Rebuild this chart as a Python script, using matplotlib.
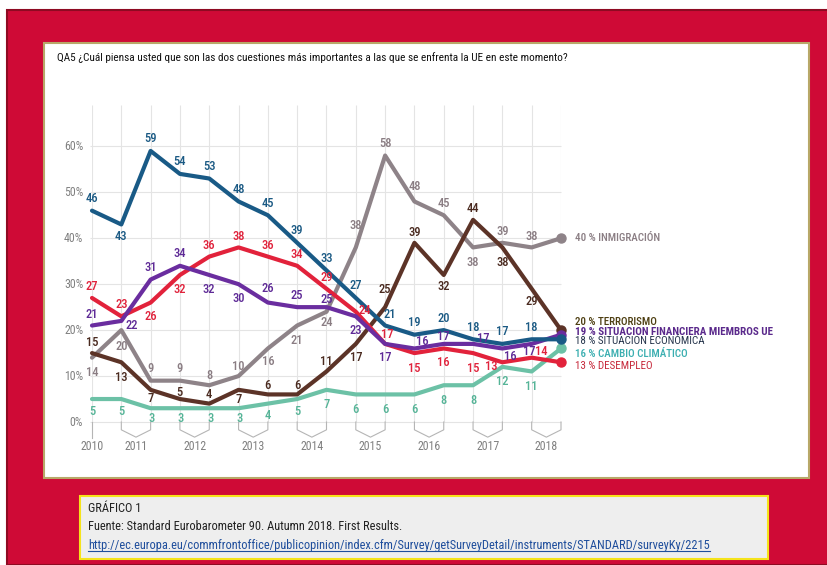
import matplotlib
matplotlib.use("Agg")
import matplotlib.pyplot as plt
from matplotlib.patches import Rectangle

plt.rcParams['font.family'] = ['Roboto Condensed', 'DejaVu Sans']

W, H = 828, 565

# ---- data (Eurobarometer QA5, % mentions) ----
years = ['2010', '2011', '2012', '2013', '2014', '2015', '2016', '2017', '2018']
economia = [46, 43, 59, 54, 53, 48, 45, 39, 33, 27, 21, 19, 20, 18, 17, 18, 18]
desempleo = [27, 23, 26, 32, 36, 38, 36, 34, 29, 24, 17, 15, 16, 15, 13, 14, 13]
finanzas = [21, 22, 31, 34, 32, 30, 26, 25, 25, 23, 17, 16, 17, 17, 16, 17, 19]
inmigracion = [14, 20, 9, 9, 8, 10, 16, 21, 24, 38, 58, 48, 45, 38, 39, 38, 40]
terrorismo = [15, 13, 7, 5, 4, 7, 6, 6, 11, 17, 25, 39, 32, 44, 38, 29, 20]
clima = [5, 5, 3, 3, 3, 3, 4, 5, 7, 6, 6, 6, 8, 8, 12, 11, 16]
yticks = [0, 10, 20, 30, 40, 50, 60]

# label offsets (pixels, dy positive = down in the picture)
off_eco = [(0, -12), (0, 12)] + [(0, -12)] * 8 + [(5, -11)] + [(0, -12)] * 5
off_des = [(0, -11), (0, -12), (0, 14), (0, 15)] + [(0, -11)] * 5 + \
          [(9, -1), (2, -9), (0, 15), (0, 14), (0, 15), (-11, 4), (10, -6)]
off_fin = [(0, -11), (10, 5), (0, -12), (0, -12), (0, 15), (0, 14), (0, -14),
           (0, -12), (0, -8), (0, 14), (0, 14), (8, -7), (0, -7), (10, -5),
           (8, 8), (-2, 8)]
off_inm = [(0, 15), (0, 16), (0, -12), (0, -12), (0, -10), (0, -10), (0, 13),
           (0, 15), (0, 11), (0, -22), (0, -12), (0, -15), (0, -12), (0, 15),
           (0, -11), (0, -11)]
off_ter = [(0, -11), (0, 15), (0, 9), (0, -7), (0, -9), (0, 10), (0, -9),
           (0, -9), (0, -10), (0, 14), (0, -18), (0, -10), (0, 12), (0, -11),
           (0, 15), (0, 13)]
off_cli = [(0, 12), (0, 12)] + [(1, 10)] * 4 + [(0, 12), (0, 12)] + [(0, 15)] * 8


def fx(x):
    return x / W


def fy(y):
    return 1 - y / H


fig = plt.figure(figsize=(W / 100, H / 100), dpi=100)
fig.patch.set_facecolor('white')

# red frame, white panel, footnote box
fig.add_artist(Rectangle((fx(7), fy(565)), fx(821), 555 / H, transform=fig.transFigure,
                         facecolor='#cf0a36', edgecolor='#8e0a22', lw=1.5, zorder=-3))
fig.add_artist(Rectangle((fx(44), fy(478)), fx(765), 435 / H, transform=fig.transFigure,
                         facecolor='white', edgecolor='#b8a868', lw=1.5, zorder=-2))
fig.add_artist(Rectangle((fx(80), fy(559)), fx(688), 63 / H, transform=fig.transFigure,
                         facecolor='#eeeeee', edgecolor='#f5e31a', lw=1.5, zorder=-2))

fig.text(fx(57), fy(58), 'QA5 ¿Cuál piensa usted que son las dos cuestiones más importantes '
         'a las que se enfrenta la UE en este momento?', fontsize=8.1, va='center', color='#111111')

fig.text(fx(88), fy(509), 'GRÁFICO 1', fontsize=8.9, va='center', color='#222222')
fig.text(fx(88), fy(527), 'Fuente: Standard Eurobarometer 90. Autumn 2018. First Results.',
         fontsize=8.9, va='center', color='#222222')
url = fig.text(fx(88), fy(545), 'http://ec.europa.eu/commfrontoffice/publicopinion/index.cfm/Survey/'
               'getSurveyDetail/instruments/STANDARD/surveyKy/2215',
               fontsize=8.9, va='center', color='#1f4e9c')
fig.canvas.draw()
bb = url.get_window_extent()
fig.add_artist(plt.Line2D([bb.x0 / W, bb.x1 / W], [fy(551), fy(551)], transform=fig.transFigure,
                          color='#1f4e9c', lw=0.8))

# axes: x index 0..16 -> px 92..561, y 0..69 -> px 422..105
ax = fig.add_axes([fx(92), fy(422), (561 - 92) / W, (422 - 105) / H])
ax.set_xlim(0, 16)
ax.set_ylim(0, 69)
ax.axis('off')

n = len(economia)
xs = list(range(n))
grid_c = '#e4e4e4'
ax.vlines(xs, 0, 69, color=grid_c, lw=0.8, zorder=0)
ax.hlines(yticks, -0.07, 16, color=grid_c, lw=0.8, zorder=0, clip_on=False)
for v in yticks:
    ax.text(-0.3, v, f'{v}%', ha='right', va='center', fontsize=8.6, color='#808080')

# year brackets below the axis
br_c = '#b5b5b5'
ax.plot([0, 0], [0, -3.4], color=br_c, lw=0.8, clip_on=False)
ax.text(0, -5.4, years[0], ha='center', va='center', fontsize=8.6, color='#808080')
for k, yr in enumerate(years[1:]):
    a = 1 + 2 * k
    ax.plot([a, a, a + 0.5, a + 1, a + 1], [0, -1.7, -3.3, -1.7, 0],
            color=br_c, lw=0.8, clip_on=False)
    ax.text(a + 0.5, -5.4, yr, ha='center', va='center', fontsize=8.6, color='#808080')

series = [
    (inmigracion, '#8e8388', '#8a7d83', off_inm),
    (clima, '#6cc1a6', '#55b497', off_cli),
    (terrorismo, '#5c3327', '#4a2a1f', off_ter),
    (desempleo, '#e2223b', '#e0233c', off_des),
    (finanzas, '#6a2d9f', '#5e2a96', off_fin),
    (economia, '#195a86', '#1b5a84', off_eco),
]
for vals, lc, tc, offs in series:
    ax.plot(xs, vals, color=lc, lw=3.0, solid_joinstyle='round', solid_capstyle='round',
            clip_on=False, zorder=3)
    ax.plot(xs[-1], vals[-1], 'o', color=lc, ms=6.5, clip_on=False, zorder=4)
    for i, (v, (dx, dy)) in enumerate(zip(vals[:-1], offs)):
        ax.annotate(str(v), (i, v), xytext=(dx, -dy), textcoords='offset pixels',
                    ha='center', va='center', fontsize=9, color=tc, zorder=5,
                    fontweight='medium', annotation_clip=False)

# end labels
end_labels = [
    (238, f'{inmigracion[-1]} % INMIGRACIÓN', '#8a7d83', 'medium'),
    (322, f'{terrorismo[-1]} % TERRORISMO', '#4e3f12', 'medium'),
    (332, f'{finanzas[-1]} % SITUACION FINANCIERA MIEMBROS UE', '#5b2a8c', 'bold'),
    (341, f'{economia[-1]} % SITUACION ECONÓMICA', '#26354c', 'normal'),
    (354, f'{clima[-1]} % CAMBIO CLIMÁTICO', '#3aaeb0', 'medium'),
    (366, f'{desempleo[-1]} % DESEMPLEO', '#c6283a', 'normal'),
]
for ypx, txt, c, w in end_labels:
    fig.text(fx(575), fy(ypx), txt, fontsize=7.9, va='center', color=c, fontweight=w)

fig.savefig('out.png', dpi=100)
